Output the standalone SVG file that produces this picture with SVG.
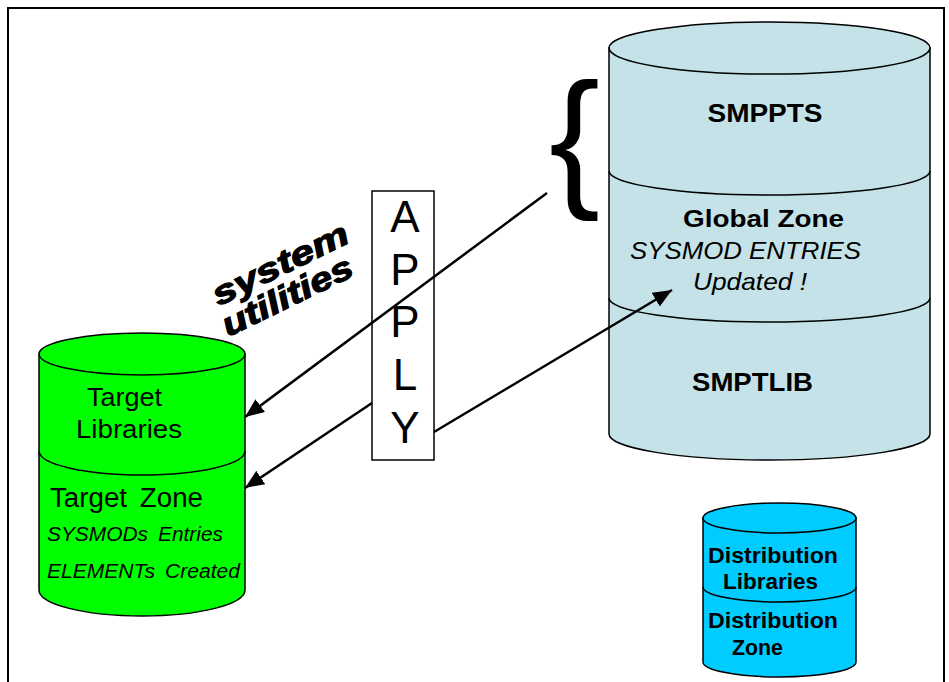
<svg xmlns="http://www.w3.org/2000/svg" width="949" height="682" viewBox="0 0 949 682">
<style>
  text { font-family: "Liberation Sans", Arial, sans-serif; fill: #000; }
  .cyl { stroke: #000; stroke-width: 1.5; }
  .div { fill: none; stroke: #000; stroke-width: 1.5; }
  .b { font-weight: bold; }
  .i { font-style: italic; }
  .conn { stroke: #000; stroke-width: 2.5; fill: none; marker-end: url(#ah); }
</style>
<defs>
  <marker id="ah" markerUnits="userSpaceOnUse" markerWidth="22" markerHeight="18" refX="19" refY="8" orient="auto">
    <path d="M0,0 L19,8 L0,16 z" fill="#000"/>
  </marker>
</defs>
<rect x="0" y="0" width="949" height="682" fill="#fff"/>
<path d="M8,682 V8 H944 V682" fill="none" stroke="#000" stroke-width="2"/>

<g id="smp-csi">
  <path class="cyl" fill="#C4E2E7" d="M609,48 V434 A160.5,26 0 0 0 930,434 V48 Z"/>
  <ellipse class="cyl" fill="#C4E2E7" cx="769.5" cy="48" rx="160.5" ry="26"/>
  <path class="div" d="M609,171 A160.5,24 0 0 0 930,171"/>
  <path class="div" d="M609,298 A160.5,24 0 0 0 930,298"/>
  <text class="b" x="765" y="122" font-size="25" text-anchor="middle" textLength="115" lengthAdjust="spacingAndGlyphs">SMPPTS</text>
  <text class="b" x="763.5" y="227" font-size="24" text-anchor="middle" textLength="161" lengthAdjust="spacingAndGlyphs">Global Zone</text>
  <text class="i" x="745.5" y="259" font-size="24" text-anchor="middle" textLength="231" lengthAdjust="spacingAndGlyphs">SYSMOD ENTRIES</text>
  <text class="i" x="750" y="290" font-size="24" text-anchor="middle" textLength="114" lengthAdjust="spacingAndGlyphs">Updated !</text>
  <text class="b" x="752.5" y="391" font-size="25" text-anchor="middle" textLength="121" lengthAdjust="spacingAndGlyphs">SMPTLIB</text>
</g>

<g id="brace">
  <text x="549" y="189" font-size="153">{</text>
</g>

<g id="target">
  <path class="cyl" fill="#00FF00" d="M39,354 V590 A103,26 0 0 0 245,590 V354 Z"/>
  <ellipse class="cyl" fill="#00FF00" cx="142" cy="354" rx="103" ry="21"/>
  <path class="div" d="M39,451 A103,24 0 0 0 245,451"/>
  <text x="124.5" y="406" font-size="26" text-anchor="middle" textLength="75" lengthAdjust="spacingAndGlyphs">Target</text>
  <text x="129" y="438" font-size="26" text-anchor="middle" textLength="106" lengthAdjust="spacingAndGlyphs">Libraries</text>
  <text x="50" y="507" font-size="27" word-spacing="5" textLength="153" lengthAdjust="spacingAndGlyphs">Target Zone</text>
  <text class="i" x="47" y="541" font-size="20" word-spacing="4" textLength="176" lengthAdjust="spacingAndGlyphs">SYSMODs Entries</text>
  <text class="i" x="47" y="578" font-size="20" word-spacing="4" textLength="193" lengthAdjust="spacingAndGlyphs">ELEMENTs Created</text>
</g>

<g id="distribution">
  <path class="cyl" fill="#00CCFF" d="M703,518 V662 A76.5,15 0 0 0 856,662 V518 Z"/>
  <ellipse class="cyl" fill="#00CCFF" cx="779.5" cy="518" rx="76.5" ry="15"/>
  <path class="div" d="M703,587 A76.5,15 0 0 0 856,587"/>
  <text class="b" x="773" y="563" font-size="22" text-anchor="middle" textLength="130" lengthAdjust="spacingAndGlyphs">Distribution</text>
  <text class="b" x="770.5" y="589" font-size="22" text-anchor="middle" textLength="95" lengthAdjust="spacingAndGlyphs">Libraries</text>
  <text class="b" x="773" y="628" font-size="22" text-anchor="middle" textLength="130" lengthAdjust="spacingAndGlyphs">Distribution</text>
  <text class="b" x="757.5" y="655" font-size="22" text-anchor="middle" textLength="51" lengthAdjust="spacingAndGlyphs">Zone</text>
</g>

<g id="apply">
  <rect x="372" y="191" width="62" height="269" fill="#fff" stroke="#000" stroke-width="1.5"/>
  <text x="405" y="232" font-size="44" text-anchor="middle">A</text>
  <text x="405" y="285" font-size="44" text-anchor="middle">P</text>
  <text x="405" y="337" font-size="44" text-anchor="middle">P</text>
  <text x="405" y="390" font-size="44" text-anchor="middle">L</text>
  <text x="405" y="443" font-size="44" text-anchor="middle">Y</text>
</g>

<g id="system-utilities">
  <text class="b i" x="285" y="274" font-size="33" text-anchor="middle" stroke="#000" stroke-width="1.2" transform="rotate(-26 285 274)" textLength="148" lengthAdjust="spacingAndGlyphs">system</text>
  <text class="b i" x="292" y="306" font-size="33" text-anchor="middle" stroke="#000" stroke-width="1.2" transform="rotate(-26 292 306)" textLength="142" lengthAdjust="spacingAndGlyphs">utilities</text>
</g>

<g id="connectors">
  <line class="conn" x1="547" y1="193" x2="245" y2="417"/>
  <line class="conn" x1="372" y1="403" x2="245" y2="488"/>
  <line class="conn" x1="434" y1="432" x2="672" y2="290"/>
</g>
</svg>
